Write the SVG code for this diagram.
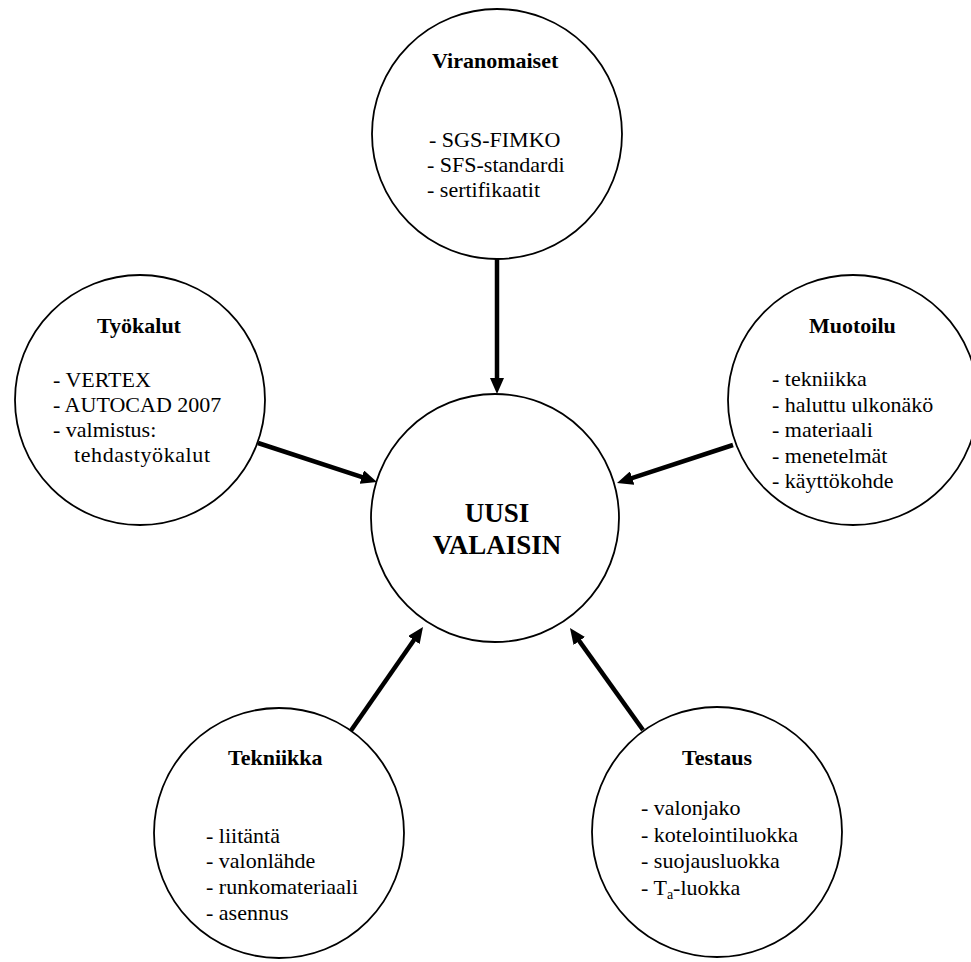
<svg xmlns="http://www.w3.org/2000/svg" width="971" height="962" viewBox="0 0 971 962">
<style>
.c{fill:#fff;stroke:#000;stroke-width:1.8}
text{font-family:"Liberation Serif","Times New Roman",serif;font-size:22px;fill:#000}
.t{font-weight:bold}
.big{font-weight:bold;font-size:27px;text-anchor:middle}
.a{stroke:#000;stroke-width:4.5;fill:none;marker-end:url(#ah)}
</style>
<defs>
<marker id="ah" markerUnits="userSpaceOnUse" markerWidth="16" markerHeight="14" refX="6" refY="7" orient="auto">
<path d="M0,0 L16,7 L0,14 z" fill="#000"/>
</marker>
</defs>
<rect width="971" height="962" fill="#fff"/>
<g id="connectors">
<line class="a" x1="497" y1="259" x2="497" y2="384"/>
<line class="a" x1="258" y1="443" x2="367.5" y2="478.9"/>
<line class="a" x1="733" y1="445" x2="626.5" y2="479.9"/>
<line class="a" x1="350" y1="732" x2="417.3" y2="635.2"/>
<line class="a" x1="643" y1="730" x2="575.8" y2="636.1"/>
</g>
<g id="viranomaiset">
<circle class="c" cx="497" cy="134" r="125"/>
<text class="t" x="432" y="68">Viranomaiset</text>
<text x="429" y="147">- SGS-FIMKO</text>
<text x="427" y="172">- SFS-standardi</text>
<text x="427" y="197">- sertifikaatit</text>
</g>
<g id="tyokalut">
<circle class="c" cx="140" cy="400" r="125"/>
<text class="t" x="97" y="333">Työkalut</text>
<text x="53" y="387">- VERTEX</text>
<text x="53" y="412">- AUTOCAD 2007</text>
<text x="53" y="437">- valmistus:</text>
<text x="74" y="462" textLength="136" lengthAdjust="spacing">tehdastyökalut</text>
</g>
<g id="muotoilu">
<circle class="c" cx="853" cy="400" r="125"/>
<text class="t" x="809" y="333">Muotoilu</text>
<text x="772" y="386">- tekniikka</text>
<text x="772" y="411.5">- haluttu ulkonäkö</text>
<text x="772" y="437">- materiaali</text>
<text x="772" y="462.5">- menetelmät</text>
<text x="772" y="488">- käyttökohde</text>
</g>
<g id="uusi-valaisin">
<circle class="c" cx="495" cy="518" r="124"/>
<text class="big" x="497" y="522">UUSI</text>
<text class="big" x="497" y="554">VALAISIN</text>
</g>
<g id="tekniikka">
<circle class="c" cx="279" cy="833" r="125"/>
<text class="t" x="228" y="765">Tekniikka</text>
<text x="206" y="843">- liitäntä</text>
<text x="206" y="868">- valonlähde</text>
<text x="206" y="894">- runkomateriaali</text>
<text x="206" y="920">- asennus</text>
</g>
<g id="testaus">
<circle class="c" cx="717" cy="832" r="125"/>
<text class="t" x="682" y="765">Testaus</text>
<text x="641" y="815">- valonjako</text>
<text x="641" y="842">- kotelointiluokka</text>
<text x="641" y="868">- suojausluokka</text>
<text x="641" y="895">- T<tspan font-size="14" dy="4">a</tspan><tspan dy="-4">-luokka</tspan></text>
</g>
</svg>
